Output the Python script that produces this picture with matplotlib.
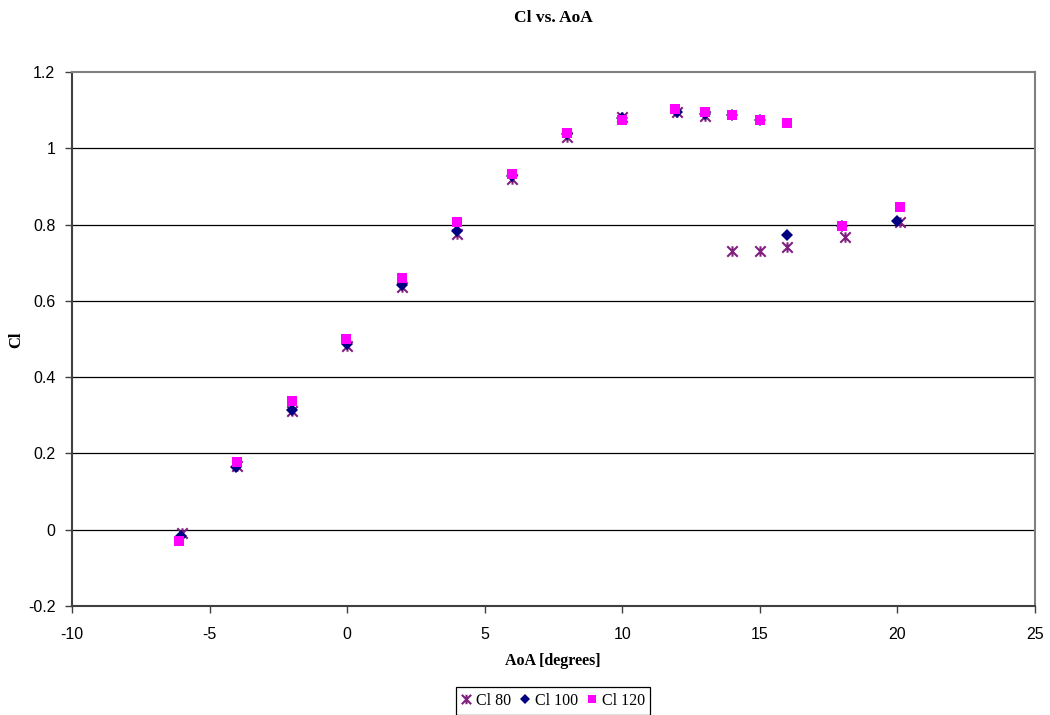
import matplotlib
matplotlib.use("Agg")
from matplotlib import pyplot as plt
from matplotlib.path import Path

# lift coefficient vs angle of attack, three runs
aoa_80 = [-6, -4, -2, 0, 2, 4, 6, 8, 10, 12, 13, 14, 15, 16, 18.1, 20.1]
cl_80 = [-0.008, 0.168, 0.312, 0.482, 0.637, 0.776, 0.920, 1.030, 1.083, 1.096, 1.085,
         0.731, 0.731, 0.742, 0.768, 0.808]

aoa_100 = [-6.05, -4.05, -2, 0, 2, 4, 6, 8, 10, 12, 13, 14, 15, 16, 18, 20]
cl_100 = [-0.016, 0.165, 0.315, 0.488, 0.642, 0.784, 0.928, 1.038, 1.080, 1.096, 1.091,
          1.088, 1.075, 0.773, 0.797, 0.810]

aoa_120 = [-6.1, -4, -2, -0.05, 2, 4, 6, 8, 10, 11.9, 13, 14, 15, 16, 18, 20.1]
cl_120 = [-0.029, 0.178, 0.338, 0.501, 0.661, 0.808, 0.933, 1.041, 1.075, 1.104, 1.096,
          1.088, 1.075, 1.067, 0.797, 0.847]

x_ticks = [-10, -5, 0, 5, 10, 15, 20, 25]
y_ticks = [-0.2, 0, 0.2, 0.4, 0.6, 0.8, 1, 1.2]
y_labels = ["-0.2", "0", "0.2", "0.4", "0.6", "0.8", "1", "1.2"]

serif = "Liberation Serif"
sans = "Liberation Sans"

# Excel-style "x with a vertical bar" marker
star_x = Path([(-1, -1), (1, 1), (-1, 1), (1, -1), (0, -1), (0, 1)],
              [Path.MOVETO, Path.LINETO, Path.MOVETO, Path.LINETO, Path.MOVETO, Path.LINETO])

fig = plt.figure(figsize=(10.5, 7.15), dpi=100)
ax = fig.add_axes([72 / 1050, 1 - 606 / 715, (1035 - 72) / 1050, (606 - 72) / 715])

for y in y_ticks[1:-1]:
    ax.axhline(y, color="black", lw=0.9, zorder=1)

ax.plot(aoa_80, cl_80, ls="none", marker=star_x, ms=7.5, mew=1.5,
        color="#7f1f7f", label="Cl 80", zorder=3)
ax.plot(aoa_100, cl_100, ls="none", marker="D", ms=6, mew=0,
        color="#000080", label="Cl 100", zorder=4)
ax.plot(aoa_120, cl_120, ls="none", marker="s", ms=6.5, mew=0,
        color="#ff00ff", label="Cl 120", zorder=5)

ax.set_xlim(-10, 25)
ax.set_ylim(-0.2, 1.2)
ax.set_xticks(x_ticks)
ax.set_xticklabels([str(t) for t in x_ticks], family=sans, fontsize=11.5)
ax.set_yticks(y_ticks)
ax.set_yticklabels(y_labels, family=sans, fontsize=11.5)
ax.tick_params(direction="out", length=5, width=1, color="#404040")
ax.tick_params(axis="x", pad=10)
ax.tick_params(axis="y", pad=7)

ax.spines["left"].set_color("#404040")
ax.spines["bottom"].set_color("#404040")
ax.spines["left"].set_linewidth(1.5)
ax.spines["bottom"].set_linewidth(1.5)
ax.spines["top"].set_color("#808080")
ax.spines["right"].set_color("#808080")
ax.spines["top"].set_linewidth(1.5)
ax.spines["right"].set_linewidth(1.5)

fig.text(553 / 1050, 1 - 18 / 715, "Cl vs. AoA", ha="center", va="center",
         family=serif, fontweight="bold", fontsize=12.5)
fig.text(553 / 1050, 1 - 661 / 715, "AoA [degrees]", ha="center", va="center",
         family=serif, fontweight="bold", fontsize=11.5)
fig.text(16 / 1050, 1 - 340 / 715, "Cl", ha="center", va="center", rotation=90,
         family=serif, fontweight="bold", fontsize=12)

leg = fig.legend(loc="center", bbox_to_anchor=(553 / 1050, 1 - 701 / 715), ncol=3,
                 frameon=True, fancybox=False, edgecolor="black", framealpha=1,
                 handlelength=0.6, handletextpad=0.3, columnspacing=0.6,
                 borderpad=0.35, markerscale=0.9, prop={"family": serif, "size": 11.5})
leg.get_frame().set_linewidth(0.9)

fig.savefig("out.png", dpi=100)
